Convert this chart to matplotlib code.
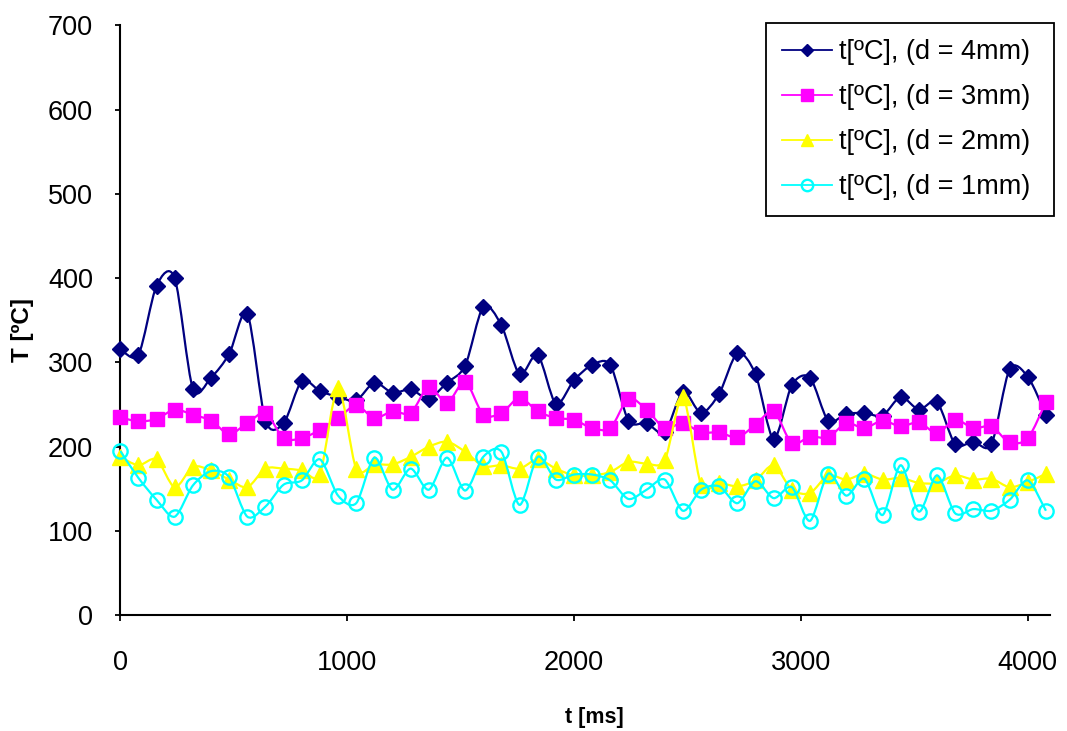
import matplotlib
matplotlib.use('Agg')
import matplotlib.pyplot as plt
from matplotlib.path import Path
from matplotlib.patches import PathPatch
from matplotlib.lines import Line2D

plt.rcParams['font.family'] = ['Liberation Sans', 'DejaVu Sans']

# time axis [ms]
t_ms = [0, 80, 160, 240, 320, 400, 480, 560, 640, 720,
        800, 880, 960, 1040, 1120, 1200, 1280, 1360, 1440, 1520,
        1600, 1680, 1760, 1840, 1920, 2000, 2080, 2160, 2240, 2320,
        2400, 2480, 2560, 2640, 2720, 2800, 2880, 2960, 3040, 3120,
        3200, 3280, 3360, 3440, 3520, 3600, 3680, 3760, 3840, 3920,
        4000, 4080]

# temperatures [ºC]
temp_d4 = [316, 309, 391, 400, 269, 282, 310, 358, 231, 228,
           278, 266, 259, 255, 276, 264, 268, 257, 276, 296,
           366, 344, 286, 309, 251, 279, 297, 297, 231, 228,
           217, 265, 240, 263, 311, 286, 209, 273, 282, 231,
           239, 240, 237, 259, 244, 253, 203, 206, 203, 292,
           283, 238]
temp_d3 = [235, 230, 233, 244, 238, 231, 215, 228, 240, 210,
           210, 220, 234, 249, 234, 242, 240, 271, 252, 277,
           238, 240, 258, 242, 234, 232, 222, 222, 257, 244,
           222, 228, 217, 217, 211, 226, 242, 204, 212, 211,
           228, 222, 231, 224, 229, 216, 232, 222, 224, 205,
           210, 253]
temp_d2 = [188, 178, 185, 152, 176, 172, 161, 152, 174, 174,
           172, 168, 270, 174, 179, 179, 188, 200, 206, 194,
           177, 178, 174, 185, 174, 166, 166, 170, 182, 180,
           184, 259, 155, 157, 153, 160, 178, 149, 145, 166,
           161, 168, 161, 163, 157, 157, 166, 161, 162, 152,
           158, 168]
temp_d1 = [195, 163, 137, 117, 154, 171, 164, 117, 129, 155,
           160, 185, 142, 133, 187, 149, 174, 149, 187, 148,
           188, 194, 131, 188, 161, 167, 167, 160, 138, 149,
           161, 124, 149, 153, 133, 159, 139, 152, 112, 168,
           142, 162, 119, 178, 123, 166, 121, 126, 124, 137,
           160, 124]

labels = ['t[ºC], (d = 4mm) ', 't[ºC], (d = 3mm) ',
          't[ºC], (d = 2mm) ', 't[ºC], (d = 1mm) ']


def smooth_path(x, y, k=7.0):
    # Excel-like smoothed line: cardinal spline segments as cubic Bezier curves
    n = len(x)
    verts = [(x[0], y[0])]
    codes = [Path.MOVETO]
    for i in range(n - 1):
        i0, i3 = max(i - 1, 0), min(i + 2, n - 1)
        c1 = (x[i] + (x[i + 1] - x[i0]) / k, y[i] + (y[i + 1] - y[i0]) / k)
        c2 = (x[i + 1] - (x[i3] - x[i]) / k, y[i + 1] - (y[i3] - y[i]) / k)
        verts += [c1, c2, (x[i + 1], y[i + 1])]
        codes += [Path.CURVE4] * 3
    return Path(verts, codes)


fig = plt.figure(figsize=(10.67, 7.31), dpi=100)
ax = fig.add_axes([0.1127, 0.1583, 0.8718, 0.8071])

styles = [
    dict(color='#000080', marker='D', ms=7.8, mfc='#000080', mec='#000080', mew=1),
    dict(color='#FF00FF', marker='s', ms=10.5, mfc='#FF00FF', mec='#FF00FF', mew=1),
    dict(color='#FFFF00', marker='^', ms=11.5, mfc='#FFFF00', mec='#FFFF00', mew=1),
    dict(color='#00FFFF', marker='o', ms=10.3, mfc='none', mec='#00FFFF', mew=1.7),
]
series = [temp_d4, temp_d3, temp_d2, temp_d1]

handles = []
for k, (vals, st) in enumerate(zip(series, styles)):
    patch = PathPatch(smooth_path(t_ms, vals), facecolor='none',
                      edgecolor=st['color'], lw=1.6, zorder=3 + 2 * k)
    ax.add_patch(patch)
    ax.plot(t_ms, vals, linestyle='none', marker=st['marker'], ms=st['ms'],
            mfc=st['mfc'], mec=st['mec'], mew=st['mew'],
            zorder=3.5 + 2 * k, clip_on=False)
    handles.append(Line2D([], [], color=st['color'], lw=1.3,
                          marker=st['marker'], ms=st['ms'] * 0.8,
                          mfc=st['mfc'], mec=st['mec'], mew=st['mew']))

ax.set_xlim(0, 4100)
ax.set_ylim(0, 700)
ax.set_xticks([0, 1000, 2000, 3000, 4000])
ax.set_yticks(range(0, 701, 100))

for side in ['top', 'right']:
    ax.spines[side].set_visible(False)
for side in ['left', 'bottom']:
    ax.spines[side].set_linewidth(1.5)
    ax.spines[side].set_color('black')

ax.tick_params(axis='y', direction='out', length=3.5, width=1.3,
               labelsize=19.5, pad=16)
ax.tick_params(axis='x', direction='out', length=4, width=1.3,
               labelsize=19.5, pad=21)

fig.text(22 / 1067, 1 - 330 / 731, 'T [ºC]', rotation=90, fontsize=17.5,
         fontweight='bold', ha='center', va='center')
fig.text(594 / 1067, 1 - 717 / 731, 't [ms]', fontsize=15.5,
         fontweight='bold', ha='center', va='center')

leg = ax.legend(handles, labels, loc='upper right',
                bbox_to_anchor=(1054 / 1067, 1 - 23 / 731),
                bbox_transform=fig.transFigure, fontsize=19.5,
                frameon=True, fancybox=False, framealpha=1,
                edgecolor='black', borderpad=0.6, labelspacing=0.7,
                handlelength=1.85, handletextpad=0.25, borderaxespad=0)
leg.get_frame().set_linewidth(1.3)

fig.savefig('out.png', dpi=100)
